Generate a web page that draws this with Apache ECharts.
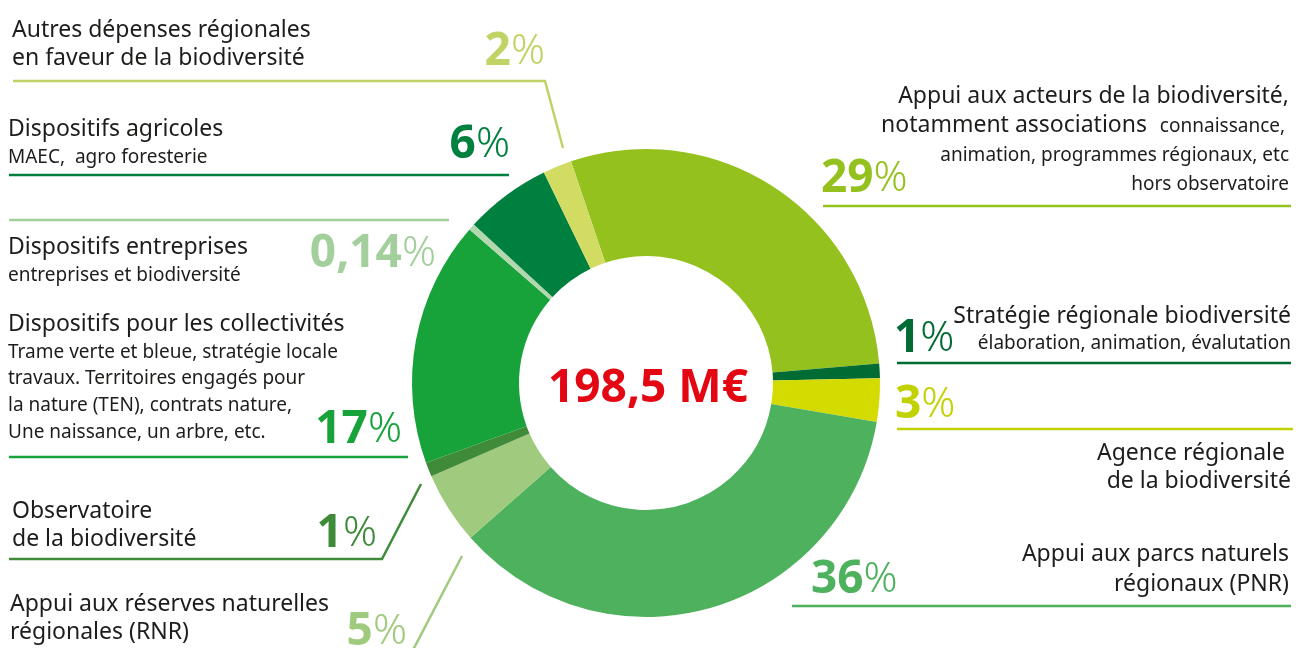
<!DOCTYPE html>
<html>
<head>
<meta charset="utf-8">
<script src="https://cdn.jsdelivr.net/npm/echarts@6/dist/echarts.min.js"></script>
<style>
  html, body { margin: 0; padding: 0; background: #fff; }
  #chart { width: 1296px; height: 648px; }
</style>
</head>
<body>
<div id="chart"></div>
<script>
// parts du budget (%), dans le sens horaire à partir du haut
const categories = [
  'Appui aux acteurs de la biodiversité',
  'Stratégie régionale biodiversité',
  'Agence régionale de la biodiversité',
  'Appui aux parcs naturels régionaux (PNR)',
  'Appui aux réserves naturelles régionales (RNR)',
  'Observatoire de la biodiversité',
  'Dispositifs pour les collectivités',
  'Dispositifs entreprises',
  'Dispositifs agricoles',
  'Autres dépenses régionales en faveur de la biodiversité'
]
const values = [29, 1, 3, 36, 5, 1, 17, 0.14, 6, 2]
const totalLabel = '198,5 M€'

// libellés affichés (titre + détail)
const headLines = [
  ['Appui aux acteurs de la biodiversité,', 'notamment associations'],
  ['Stratégie régionale biodiversité'],
  ['Agence régionale ', 'de la biodiversité'],
  ['Appui aux parcs naturels', 'régionaux (PNR)'],
  ['Appui aux réserves naturelles', 'régionales (RNR)'],
  ['Observatoire', 'de la biodiversité'],
  ['Dispositifs pour les collectivités'],
  ['Dispositifs entreprises'],
  ['Dispositifs agricoles'],
  ['Autres dépenses régionales', 'en faveur de la biodiversité']
]
const subLines = [
  ['connaissance, ', 'animation, programmes régionaux, etc', 'hors observatoire'],
  ['élaboration, animation, évalutation'],
  [],
  [],
  [],
  [],
  ['Trame verte et bleue, stratégie locale', 'travaux. Territoires engagés pour', 'la nature (TEN), contrats nature,', 'Une naissance, un arbre, etc.'],
  ['entreprises et biodiversité'],
  ['MAEC,  agro foresterie'],
  []
]

// couleurs
const sliceColors = ['#95C11F', '#006B33', '#D4DB00', '#4EB15D', '#A0CA7E', '#3F8B3A', '#17A33A', '#B3D8AE', '#00803E', '#D2DB62']
const textColors  = ['#95C11F', '#006B33', '#C2D100', '#4EB15D', '#A0CA7E', '#3F8B3A', '#17A33A', '#A2CF9B', '#00803E', '#BFD464']

// placement des étiquettes : [x, ligne de base, alignement]
const pctLayout = [
  [821, 192, 'left'], [894, 352, 'left'], [895, 418, 'left'], [811, 593, 'left'],
  [407, 645, 'right'], [377, 547, 'right'], [402, 443, 'right'], [436, 267, 'right'],
  [510, 158, 'right'], [545, 65, 'right']
]
const leaderLines = [
  [[823, 206], [1291, 206]],
  [[897, 363], [1291, 363]],
  [[897, 429], [1293, 429]],
  [[792, 606], [1291, 606]],
  [[413, 650], [462, 556]],
  [[9, 559], [382, 559], [421, 484]],
  [[9, 457], [408, 457]],
  [[9, 220], [449, 220]],
  [[9, 175], [509, 175]],
  [[13, 81], [545, 81], [563, 148]]
]
// position de chaque ligne de texte [x, ligne de base]
const descLayout = [
  {align: 'right', head: [[1289, 102], [1147, 131]], sub: [[1290, 131], [1289, 160], [1289, 189]]},
  {align: 'right', head: [[1291, 322]], sub: [[1291, 348]]},
  {align: 'right', head: [[1291, 459], [1291, 487]], sub: []},
  {align: 'right', head: [[1289, 560], [1289, 590]], sub: []},
  {align: 'left', head: [[10, 610], [10, 638]], sub: []},
  {align: 'left', head: [[12, 517], [12, 545]], sub: []},
  {align: 'left', head: [[8, 330]], sub: [[8, 357], [8, 383], [8, 410], [8, 437]]},
  {align: 'left', head: [[8, 253]], sub: [[8, 280]]},
  {align: 'left', head: [[8, 135]], sub: [[8, 162]]},
  {align: 'left', head: [[12, 36], [12, 64]], sub: []}
]

const FONT = '"Noto Sans", sans-serif'
const HEAD = 23, SUB = 19, NUM = 46
const KT = 0.25   // texte : milieu -> ligne de base
const KN = 0.29   // chiffres

const chart = echarts.init(document.getElementById('chart'))

const graphics = []
descLayout.forEach((d, i) => {
  headLines[i].forEach((t, j) => {
    graphics.push({
      type: 'text', silent: true,
      x: d.head[j][0], y: d.head[j][1] - KT * HEAD,
      style: {text: t, font: HEAD + 'px ' + FONT, fill: '#1d1d1b', align: d.align, verticalAlign: 'middle'}
    })
  })
  subLines[i].forEach((t, j) => {
    graphics.push({
      type: 'text', silent: true,
      x: d.sub[j][0], y: d.sub[j][1] - KT * SUB,
      style: {text: t, font: SUB + 'px ' + FONT, fill: '#1d1d1b', align: d.align, verticalAlign: 'middle'}
    })
  })
})
graphics.push({
  type: 'text', silent: true,
  x: 648, y: 402 - KN * NUM,
  style: {text: totalLabel, font: 'bold 46px ' + FONT, fill: '#E30613', align: 'center', verticalAlign: 'middle'}
})

const seriesData = values.map((v, i) => ({
  name: categories[i],
  value: v,
  itemStyle: {color: sliceColors[i]},
  label: {color: textColors[i]},
  labelLine: {lineStyle: {color: textColors[i], width: 2.5}}
}))

const option = {
  animation: false,
  graphic: graphics,
  series: [
    {
      type: 'pie',
      silent: true,
      center: [646, 383],
      radius: [127, 234],
      startAngle: 108.7,
      clockwise: true,
      minAngle: 1.6,
      avoidLabelOverlap: false,
      itemStyle: {borderWidth: 0},
      label: {
        show: true,
        position: 'outside',
        formatter: p => '{num|' + String(p.value).replace('.', ',') + '}{pct|%}',
        rich: {
          num: {fontFamily: FONT, fontWeight: 'bold', fontSize: NUM, lineHeight: 46},
          pct: {fontFamily: FONT, fontWeight: 300, fontSize: 42, lineHeight: 46}
        }
      },
      labelLine: {show: true, smooth: false},
      labelLayout: function (params) {
        const p = pctLayout[params.dataIndex]
        return {
          x: p[0],
          y: p[1] - KN * NUM,
          align: p[2],
          verticalAlign: 'middle',
          labelLinePoints: leaderLines[params.dataIndex]
        }
      },
      data: seriesData
    }
  ]
}
chart.setOption(option)
</script>
</body>
</html>
